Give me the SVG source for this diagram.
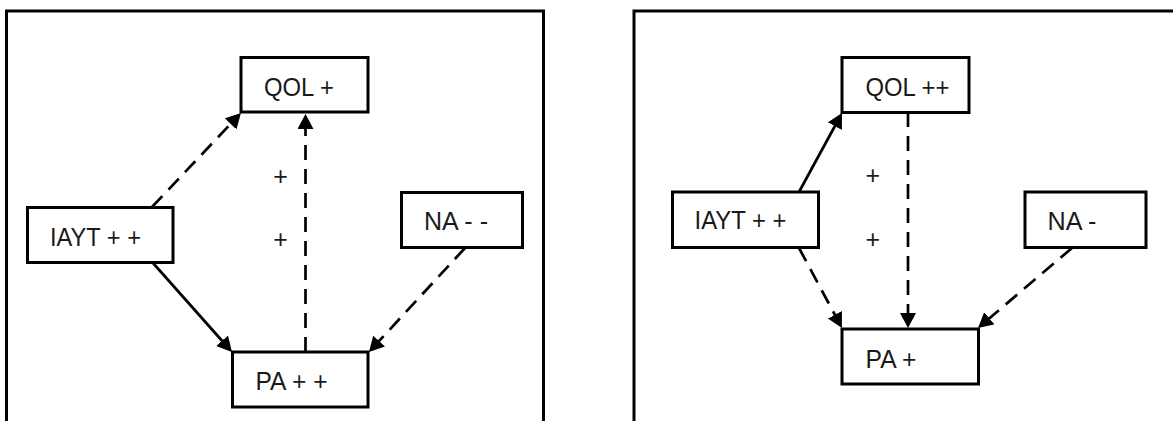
<svg xmlns="http://www.w3.org/2000/svg" width="1173" height="421" viewBox="0 0 1173 421">
  <style>
    .frame { fill: none; stroke: #000; stroke-width: 3; }
    .box { fill: #fff; stroke: #000; stroke-width: 3; }
    .lbl { font-family: "Liberation Sans Narrow", "Liberation Sans", Arial, sans-serif; font-size: 26px; fill: #1a1a1a; }
    .sign { font-family: "Liberation Sans", Arial, sans-serif; font-size: 25px; fill: #1a1a1a; text-anchor: middle; }
    .link { fill: none; stroke: #000; stroke-width: 2.7; marker-end: url(#head); }
    .dash { stroke-dasharray: 15 9; }
  </style>
  <defs>
    <marker id="head" markerUnits="userSpaceOnUse" markerWidth="16" markerHeight="17" refX="3" refY="8" orient="auto">
      <path d="M0,0 L15,8 L0,16 z" fill="#000"/>
    </marker>
  </defs>
  <rect width="1173" height="421" fill="#fff"/>

  <!-- panel frames (open at the bottom / right edge) -->
  <path class="frame" d="M6.5,430 V11 H543.5 V430"/>
  <path class="frame" d="M634,430 V11 H1180"/>

  <!-- left panel connectors -->
  <g id="connectors-left">
    <line class="link dash" x1="152" y1="207" x2="232.7" y2="121.7"/>
    <line class="link dash" x1="305.5" y1="352" x2="305.5" y2="126"/>
    <line class="link" x1="153" y1="263" x2="224" y2="343"/>
    <line class="link dash" x1="465" y1="248" x2="377.1" y2="343.2"/>
    <text class="sign" x="280.5" y="185">+</text>
    <text class="sign" x="280.5" y="248">+</text>
  </g>

  <!-- right panel connectors -->
  <g id="connectors-right">
    <line class="link" x1="799" y1="192" x2="836.3" y2="123.5"/>
    <line class="link dash" x1="908" y1="112" x2="908" y2="316"/>
    <line class="link dash" x1="799" y1="248" x2="836.3" y2="317.4"/>
    <line class="link dash" x1="1072" y1="248" x2="987.1" y2="320.2"/>
    <text class="sign" x="872.7" y="184">+</text>
    <text class="sign" x="872.7" y="248">+</text>
  </g>

  <!-- left panel nodes -->
  <g id="qol-left">
    <rect class="box" x="241" y="57.5" width="127" height="54.5"/>
    <text class="lbl" x="264" y="96" textLength="70" lengthAdjust="spacingAndGlyphs">QOL +</text>
  </g>
  <g id="iayt-left">
    <rect class="box" x="27.5" y="207.5" width="145.5" height="55"/>
    <text class="lbl" x="50" y="245.5" textLength="91" lengthAdjust="spacingAndGlyphs">IAYT + +</text>
  </g>
  <g id="na-left">
    <rect class="box" x="401.5" y="192.5" width="121" height="55"/>
    <text class="lbl" x="424" y="230" textLength="64" lengthAdjust="spacingAndGlyphs">NA - -</text>
  </g>
  <g id="pa-left">
    <rect class="box" x="232.5" y="352" width="135.5" height="55"/>
    <text class="lbl" x="255.5" y="390" textLength="72" lengthAdjust="spacingAndGlyphs">PA + +</text>
  </g>

  <!-- right panel nodes -->
  <g id="qol-right">
    <rect class="box" x="842" y="57.5" width="127" height="55"/>
    <text class="lbl" x="865.5" y="95.7" textLength="84" lengthAdjust="spacingAndGlyphs">QOL ++</text>
  </g>
  <g id="iayt-right">
    <rect class="box" x="672.5" y="192" width="146" height="55.5"/>
    <text class="lbl" x="694.5" y="229.3" textLength="92" lengthAdjust="spacingAndGlyphs">IAYT + +</text>
  </g>
  <g id="na-right">
    <rect class="box" x="1025" y="192" width="121" height="55.5"/>
    <text class="lbl" x="1047.5" y="230" textLength="49" lengthAdjust="spacingAndGlyphs">NA -</text>
  </g>
  <g id="pa-right">
    <rect class="box" x="842" y="329" width="136.5" height="55"/>
    <text class="lbl" x="865.5" y="368.3" textLength="51" lengthAdjust="spacingAndGlyphs">PA +</text>
  </g>
</svg>
